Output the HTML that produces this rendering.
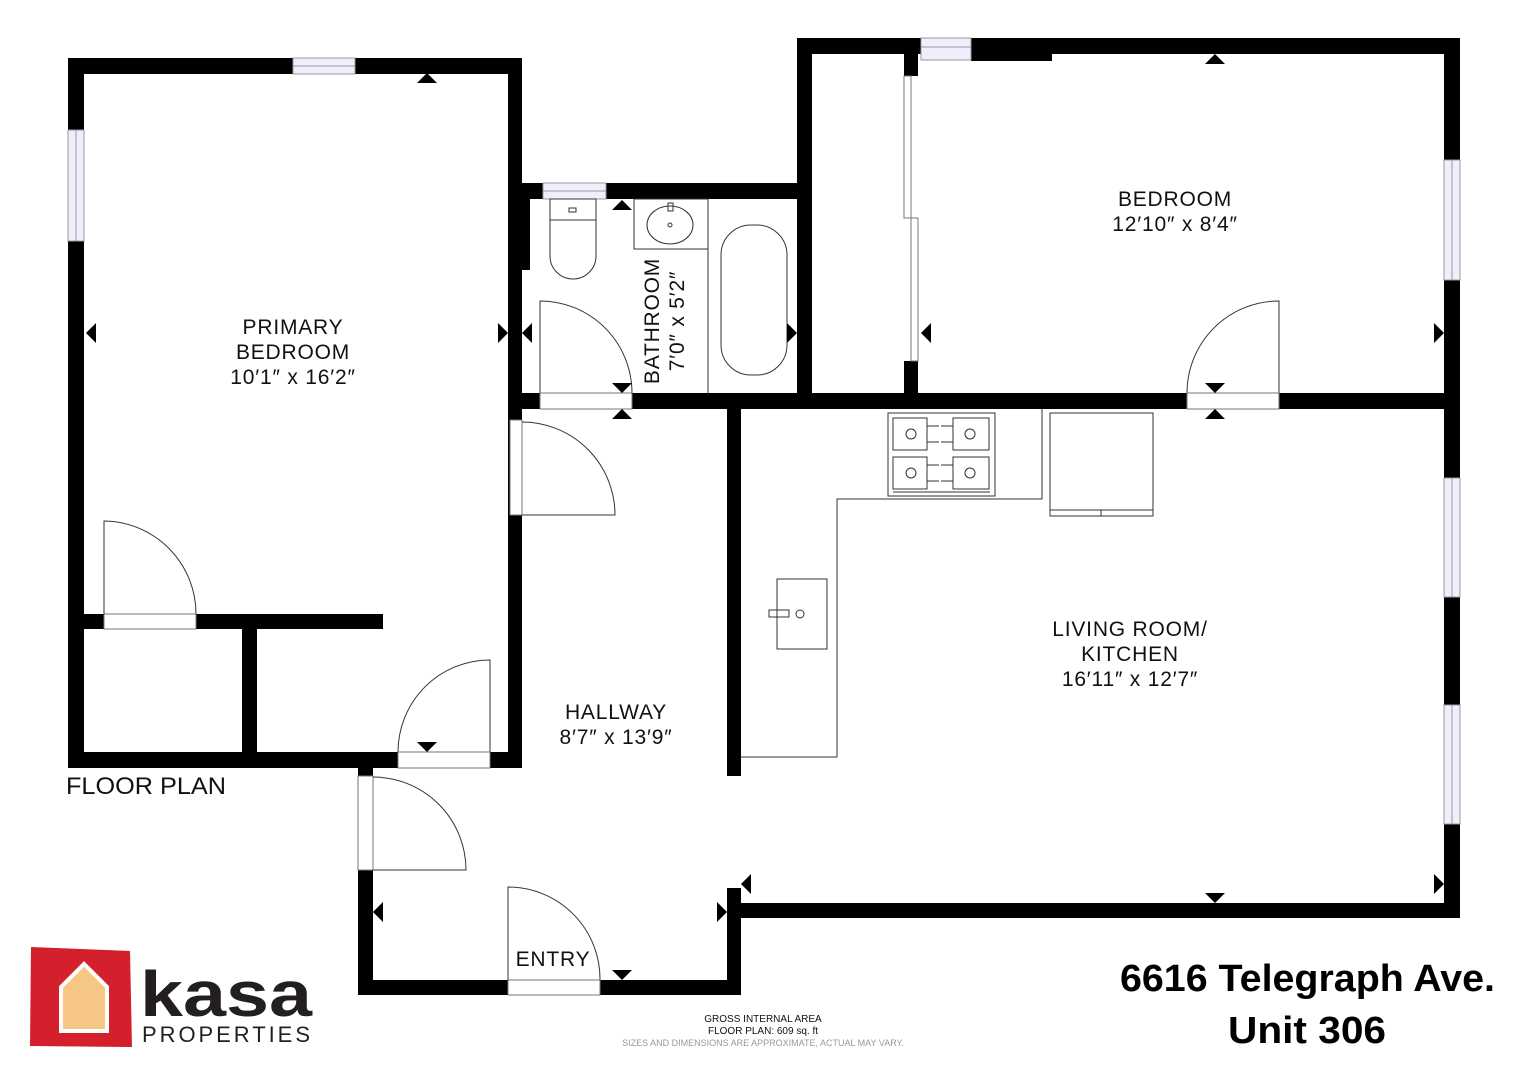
<!DOCTYPE html>
<html><head><meta charset="utf-8"><style>
html,body{margin:0;padding:0;background:#fff;}
svg{display:block}
text{font-family:"Liberation Sans",sans-serif;}
</style></head><body>
<svg width="1526" height="1080" viewBox="0 0 1526 1080" xmlns="http://www.w3.org/2000/svg">
<rect width="1526" height="1080" fill="#fff"/>
<g fill="#000">
<rect x="68" y="58" width="16" height="710"/>
<rect x="68" y="58" width="454" height="16"/>
<rect x="508" y="58" width="14" height="709"/>
<rect x="68" y="752" width="454" height="16"/>
<rect x="84" y="614" width="299" height="15"/>
<rect x="242" y="629" width="15" height="123"/>
<rect x="508" y="183" width="22" height="87"/>
<rect x="508" y="183" width="304" height="16"/>
<rect x="797" y="38" width="15" height="371"/>
<rect x="508" y="393" width="952" height="16"/>
<rect x="797" y="38" width="663" height="16"/>
<rect x="971" y="38" width="81" height="23"/>
<rect x="1444" y="38" width="16" height="880"/>
<rect x="904" y="54" width="14" height="22"/>
<rect x="904" y="361" width="14" height="32"/>
<rect x="727" y="903" width="733" height="15"/>
<rect x="727" y="409" width="14" height="367"/>
<rect x="727" y="888" width="14" height="107"/>
<rect x="358" y="768" width="15" height="227"/>
<rect x="358" y="980" width="383" height="15"/>
</g>
<g fill="#eeeefc" stroke="#999" stroke-width="1">
<rect x="293" y="58" width="62" height="16"/><line x1="293" y1="66" x2="355" y2="66"/>
<rect x="68" y="130" width="16" height="111"/><line x1="76" y1="130" x2="76" y2="241"/>
<rect x="543" y="183" width="63" height="16"/><line x1="543" y1="191" x2="606" y2="191"/>
<rect x="921" y="38" width="50" height="22"/><line x1="921" y1="47" x2="971" y2="47"/>
<rect x="1444" y="160" width="16" height="120"/><line x1="1452" y1="160" x2="1452" y2="280"/>
<rect x="1444" y="478" width="16" height="119"/><line x1="1452" y1="478" x2="1452" y2="597"/>
<rect x="1444" y="705" width="16" height="119"/><line x1="1452" y1="705" x2="1452" y2="824"/>
</g>
<g fill="#fff" stroke="#777" stroke-width="1">
<rect x="104" y="614" width="92" height="15"/>
<rect x="510" y="420" width="12" height="95"/>
<rect x="398" y="752" width="92" height="16"/>
<rect x="540" y="393" width="92" height="16"/>
<rect x="1187" y="393" width="92" height="16"/>
<rect x="358" y="776" width="15" height="94"/>
<rect x="508" y="980" width="92" height="15"/>
<rect x="904" y="76" width="7" height="142"/>
<rect x="911" y="218" width="7" height="143"/>
</g>
<g fill="none" stroke="#333" stroke-width="1">
<path d="M104 614 V521 A93 93 0 0 1 196 614"/>
<path d="M522 515 H615 A93 93 0 0 0 522 422"/>
<path d="M490 752 V660 A92 92 0 0 0 398 752"/>
<path d="M540 393 V301 A92 92 0 0 1 632 393"/>
<path d="M1279 393 V301 A92 92 0 0 0 1187 393"/>
<path d="M373 870 H466 A93 93 0 0 0 373 777"/>
<path d="M508 980 V887 A92 92 0 0 1 600 980"/>
<rect x="550" y="199" width="46" height="21"/>
<rect x="569" y="208" width="7" height="4"/>
<path d="M550 220 V256 A23 23 0 0 0 596 256 V220"/>
<rect x="634" y="199" width="74" height="50"/>
<ellipse cx="670" cy="225" rx="23" ry="19"/>
<circle cx="670" cy="225" r="2"/>
<rect x="668" y="203" width="5" height="8"/>
<line x1="708" y1="199" x2="708" y2="393"/>
<rect x="721" y="225" width="66" height="150" rx="30"/>
<path d="M1042 409 V499 H837 V757 H741"/>
<rect x="888" y="413" width="107" height="83"/>
<rect x="1050" y="413" width="103" height="103"/>
<line x1="1050" y1="510" x2="1153" y2="510"/>
<line x1="1101" y1="510" x2="1101" y2="516"/>
<rect x="893" y="418" width="34" height="32"/><rect x="953" y="418" width="36" height="32"/>
<rect x="893" y="457" width="34" height="32"/><rect x="953" y="457" width="36" height="32"/>
<circle cx="911" cy="434" r="5"/><circle cx="970" cy="434" r="5"/>
<circle cx="911" cy="473" r="5"/><circle cx="970" cy="473" r="5"/>
<path d="M927 426 h12 M927 442 h12 M941 426 h12 M941 442 h12 M927 465 h12 M927 481 h12 M941 465 h12 M941 481 h12"/>
<line x1="893" y1="492" x2="990" y2="492"/>
<rect x="777" y="579" width="50" height="70"/>
<circle cx="800" cy="614" r="4"/>
<rect x="769" y="610" width="20" height="7"/>
</g>
<g fill="#000">
<path d="M417 83 h20 l-10 -10z"/>
<path d="M86 333 l10 -10 v20z"/>
<path d="M508 333 l-10 -10 v20z"/>
<path d="M522 333 l10 -10 v20z"/>
<path d="M612 210 h20 l-10 -10z"/>
<path d="M612 383 h20 l-10 10z"/>
<path d="M612 419 h20 l-10 -10z"/>
<path d="M797 333 l-10 -10 v20z"/>
<path d="M921 333 l10 -10 v20z"/>
<path d="M1205 64 h20 l-10 -10z"/>
<path d="M1444 333 l-10 -10 v20z"/>
<path d="M1205 383 h20 l-10 10z"/>
<path d="M1205 419 h20 l-10 -10z"/>
<path d="M417 742 h20 l-10 10z"/>
<path d="M373 912 l10 -10 v20z"/>
<path d="M727 912 l-10 -10 v20z"/>
<path d="M741 884 l10 -10 v20z"/>
<path d="M612 970 h20 l-10 10z"/>
<path d="M1205 893 h20 l-10 10z"/>
<path d="M1444 884 l-10 -10 v20z"/>
</g>
<g font-size="21" fill="#111" text-anchor="middle" letter-spacing="0.8">
<text x="293" y="334">PRIMARY</text>
<text x="293" y="359">BEDROOM</text>
<text x="293" y="384">10′1″ x 16′2″</text>
<text x="1175" y="206">BEDROOM</text>
<text x="1175" y="231">12′10″ x 8′4″</text>
<text x="616" y="719">HALLWAY</text>
<text x="616" y="744">8′7″ x 13′9″</text>
<text x="1130" y="636">LIVING ROOM/</text>
<text x="1130" y="661">KITCHEN</text>
<text x="1130" y="686">16′11″ x 12′7″</text>
<text x="553" y="966">ENTRY</text>
<text transform="translate(659,321) rotate(-90)">BATHROOM</text>
<text transform="translate(684,321) rotate(-90)">7′0″ x 5′2″</text>
</g>
<text x="66" y="794" font-size="24" fill="#111" textLength="160" lengthAdjust="spacingAndGlyphs">FLOOR PLAN</text>
<g text-anchor="middle" fill="#111" font-size="10">
<text x="763" y="1022">GROSS INTERNAL AREA</text>
<text x="763" y="1034">FLOOR PLAN: 609 sq. ft</text>
<text x="763" y="1046" fill="#999" font-size="9">SIZES AND DIMENSIONS ARE APPROXIMATE, ACTUAL MAY VARY.</text>
</g>
<g font-weight="bold" font-size="38" fill="#000">
<text x="1120" y="991" textLength="375" lengthAdjust="spacingAndGlyphs">6616 Telegraph Ave.</text>
<text x="1228" y="1043" textLength="158" lengthAdjust="spacingAndGlyphs">Unit 306</text>
</g>
<path d="M31 947 L130 951 L132 1047 L30 1046 Z" fill="#d4202c"/>
<path d="M61 987 L84 964 L107 987 V1031 H61 Z" fill="#f6c785" stroke="#fff" stroke-width="4"/>
<text x="140" y="1016" font-size="64" font-weight="bold" fill="#231f20" textLength="172" lengthAdjust="spacingAndGlyphs">kasa</text>
<text x="142" y="1042" font-size="22" fill="#231f20" textLength="168" lengthAdjust="spacing">PROPERTIES</text>
</svg>
</body></html>
